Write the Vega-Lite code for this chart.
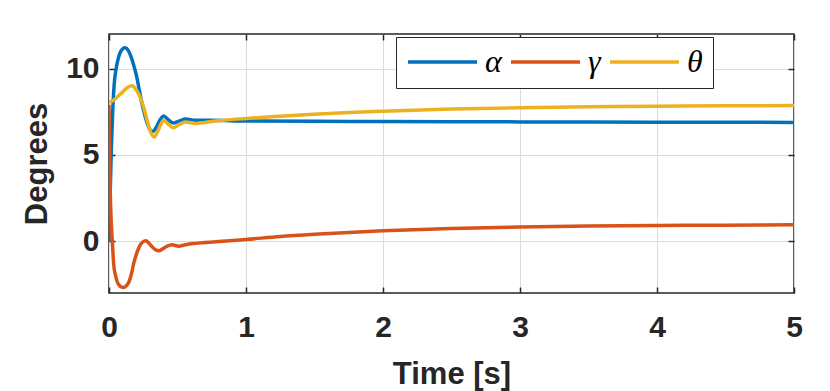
{
  "$schema": "https://vega.github.io/schema/vega-lite/v6.json",
  "width": 685,
  "height": 259,
  "autosize": {"type": "none"},
  "padding": {"left": 109, "top": 34, "right": 36, "bottom": 98},
  "background": "white",
  "config": {
    "view": {"stroke": "#262626", "strokeWidth": 1.5},
    "font": "Liberation Sans"
  },
  "data": {
    "values": [
      {"t": 0, "v": 0, "s": "α"},
      {"t": 0.008, "v": 2.5, "s": "α"},
      {"t": 0.017, "v": 5.3, "s": "α"},
      {"t": 0.027, "v": 7.5, "s": "α"},
      {"t": 0.037, "v": 9.0, "s": "α"},
      {"t": 0.05, "v": 9.9, "s": "α"},
      {"t": 0.065, "v": 10.5, "s": "α"},
      {"t": 0.08, "v": 10.9, "s": "α"},
      {"t": 0.095, "v": 11.1, "s": "α"},
      {"t": 0.117, "v": 11.2, "s": "α"},
      {"t": 0.14, "v": 11.05, "s": "α"},
      {"t": 0.16, "v": 10.7, "s": "α"},
      {"t": 0.18, "v": 10.2, "s": "α"},
      {"t": 0.2, "v": 9.6, "s": "α"},
      {"t": 0.22, "v": 8.8, "s": "α"},
      {"t": 0.24, "v": 8.0, "s": "α"},
      {"t": 0.26, "v": 7.35, "s": "α"},
      {"t": 0.28, "v": 6.8, "s": "α"},
      {"t": 0.3, "v": 6.45, "s": "α"},
      {"t": 0.32, "v": 6.35, "s": "α"},
      {"t": 0.345, "v": 6.6, "s": "α"},
      {"t": 0.37, "v": 7.0, "s": "α"},
      {"t": 0.4, "v": 7.25, "s": "α"},
      {"t": 0.43, "v": 7.05, "s": "α"},
      {"t": 0.47, "v": 6.85, "s": "α"},
      {"t": 0.51, "v": 6.95, "s": "α"},
      {"t": 0.56, "v": 7.08, "s": "α"},
      {"t": 0.63, "v": 7.0, "s": "α"},
      {"t": 0.74, "v": 7.0, "s": "α"},
      {"t": 1, "v": 6.96, "s": "α"},
      {"t": 1.5, "v": 6.94, "s": "α"},
      {"t": 2, "v": 6.93, "s": "α"},
      {"t": 3, "v": 6.91, "s": "α"},
      {"t": 4, "v": 6.89, "s": "α"},
      {"t": 5, "v": 6.88, "s": "α"},
      {"t": 0, "v": 7.9, "s": "γ"},
      {"t": 0.005, "v": 4.5, "s": "γ"},
      {"t": 0.012, "v": 2.0, "s": "γ"},
      {"t": 0.024, "v": 0, "s": "γ"},
      {"t": 0.035, "v": -1.4, "s": "γ"},
      {"t": 0.048, "v": -2.0, "s": "γ"},
      {"t": 0.06, "v": -2.35, "s": "γ"},
      {"t": 0.08, "v": -2.6, "s": "γ"},
      {"t": 0.105, "v": -2.68, "s": "γ"},
      {"t": 0.125, "v": -2.6, "s": "γ"},
      {"t": 0.146, "v": -2.35, "s": "γ"},
      {"t": 0.165, "v": -1.85, "s": "γ"},
      {"t": 0.18, "v": -1.3, "s": "γ"},
      {"t": 0.2, "v": -0.75, "s": "γ"},
      {"t": 0.22, "v": -0.33, "s": "γ"},
      {"t": 0.245, "v": -0.05, "s": "γ"},
      {"t": 0.27, "v": 0.02, "s": "γ"},
      {"t": 0.29, "v": -0.1, "s": "γ"},
      {"t": 0.316, "v": -0.33, "s": "γ"},
      {"t": 0.34, "v": -0.5, "s": "γ"},
      {"t": 0.365, "v": -0.56, "s": "γ"},
      {"t": 0.39, "v": -0.45, "s": "γ"},
      {"t": 0.425, "v": -0.29, "s": "γ"},
      {"t": 0.46, "v": -0.21, "s": "γ"},
      {"t": 0.51, "v": -0.29, "s": "γ"},
      {"t": 0.55, "v": -0.22, "s": "γ"},
      {"t": 0.6, "v": -0.15, "s": "γ"},
      {"t": 0.7, "v": -0.08, "s": "γ"},
      {"t": 0.8, "v": -0.02, "s": "γ"},
      {"t": 1, "v": 0.1, "s": "γ"},
      {"t": 1.25, "v": 0.27, "s": "γ"},
      {"t": 1.5, "v": 0.4, "s": "γ"},
      {"t": 1.75, "v": 0.51, "s": "γ"},
      {"t": 2, "v": 0.6, "s": "γ"},
      {"t": 2.5, "v": 0.73, "s": "γ"},
      {"t": 3, "v": 0.82, "s": "γ"},
      {"t": 3.5, "v": 0.88, "s": "γ"},
      {"t": 4, "v": 0.91, "s": "γ"},
      {"t": 4.5, "v": 0.93, "s": "γ"},
      {"t": 5, "v": 0.95, "s": "γ"},
      {"t": 0, "v": 8.05, "s": "θ"},
      {"t": 0.03, "v": 8.15, "s": "θ"},
      {"t": 0.06, "v": 8.35, "s": "θ"},
      {"t": 0.1, "v": 8.65, "s": "θ"},
      {"t": 0.135, "v": 8.9, "s": "θ"},
      {"t": 0.17, "v": 9.0, "s": "θ"},
      {"t": 0.2, "v": 8.75, "s": "θ"},
      {"t": 0.23, "v": 8.3, "s": "θ"},
      {"t": 0.255, "v": 7.7, "s": "θ"},
      {"t": 0.28, "v": 6.95, "s": "θ"},
      {"t": 0.3, "v": 6.4, "s": "θ"},
      {"t": 0.33, "v": 6.03, "s": "θ"},
      {"t": 0.355, "v": 6.35, "s": "θ"},
      {"t": 0.38, "v": 6.8, "s": "θ"},
      {"t": 0.4, "v": 7.0, "s": "θ"},
      {"t": 0.43, "v": 6.8, "s": "θ"},
      {"t": 0.47, "v": 6.57, "s": "θ"},
      {"t": 0.51, "v": 6.75, "s": "θ"},
      {"t": 0.56, "v": 6.9, "s": "θ"},
      {"t": 0.63, "v": 6.82, "s": "θ"},
      {"t": 0.7, "v": 6.88, "s": "θ"},
      {"t": 0.8, "v": 6.98, "s": "θ"},
      {"t": 1, "v": 7.11, "s": "θ"},
      {"t": 1.25, "v": 7.24, "s": "θ"},
      {"t": 1.5, "v": 7.35, "s": "θ"},
      {"t": 1.75, "v": 7.45, "s": "θ"},
      {"t": 2, "v": 7.53, "s": "θ"},
      {"t": 2.5, "v": 7.65, "s": "θ"},
      {"t": 3, "v": 7.73, "s": "θ"},
      {"t": 3.5, "v": 7.78, "s": "θ"},
      {"t": 4, "v": 7.82, "s": "θ"},
      {"t": 4.5, "v": 7.84, "s": "θ"},
      {"t": 5, "v": 7.86, "s": "θ"}
    ]
  },
  "layer": [
    {
      "mark": {"type": "line", "opacity": 0, "strokeWidth": 0},
      "encoding": {
        "x": {
          "field": "t", "type": "quantitative",
          "scale": {"domain": [0, 5], "nice": false, "zero": false},
          "axis": {
            "orient": "top", "title": null, "values": [0, 1, 2, 3, 4, 5], "labels": false,
            "grid": false, "domain": false, "ticks": true, "tickSize": -6, "tickColor": "#262626", "tickWidth": 1.5
          }
        },
        "y": {
          "field": "v", "type": "quantitative",
          "scale": {"domain": [-3, 12], "nice": false, "zero": false},
          "axis": {
            "orient": "right", "title": null, "values": [0, 5, 10], "labels": false,
            "grid": false, "domain": false, "ticks": true, "tickSize": -6, "tickColor": "#262626", "tickWidth": 1.5
          }
        }
      }
    },
    {
      "mark": {"type": "line", "interpolate": "monotone", "strokeWidth": 3.5, "clip": true},
      "encoding": {
        "x": {
          "field": "t", "type": "quantitative",
          "scale": {"domain": [0, 5], "nice": false, "zero": false},
          "axis": {
            "orient": "bottom", "title": "Time [s]", "values": [0, 1, 2, 3, 4, 5], "format": "d",
            "grid": true, "gridColor": "#dcdcdc", "gridWidth": 1,
            "domain": false, "ticks": true, "tickSize": -6, "tickColor": "#262626", "tickWidth": 1.5,
            "labelFlush": false, "labelOverlap": false,
            "labelFont": "Liberation Sans", "labelFontWeight": "bold", "labelFontSize": 30, "labelColor": "#262626",
            "labelPadding": 25,
            "titleFont": "Liberation Sans", "titleFontWeight": "bold", "titleFontSize": 31, "titleColor": "#262626",
            "titlePadding": 17
          }
        },
        "y": {
          "field": "v", "type": "quantitative",
          "scale": {"domain": [-3, 12], "nice": false, "zero": false},
          "axis": {
            "orient": "left", "title": "Degrees", "values": [0, 5, 10], "format": "d",
            "grid": true, "gridColor": "#dcdcdc", "gridWidth": 1,
            "domain": false, "ticks": true, "tickSize": -6, "tickColor": "#262626", "tickWidth": 1.5,
            "labelFlush": false, "labelOverlap": false,
            "labelFont": "Liberation Sans", "labelFontWeight": "bold", "labelFontSize": 30, "labelColor": "#262626",
            "labelPadding": 16,
            "titleFont": "Liberation Sans", "titleFontWeight": "bold", "titleFontSize": 31, "titleColor": "#262626",
            "titlePadding": 12
          }
        },
        "color": {
          "field": "s", "type": "nominal",
          "scale": {"domain": ["α", "γ", "θ"], "range": ["#0072BD", "#D95319", "#EDB120"]},
          "legend": {
            "title": null, "orient": "none", "legendX": 287, "legendY": 3,
            "direction": "horizontal", "clipHeight": 30,
            "symbolType": "stroke", "symbolSize": 4761, "symbolStrokeWidth": 3.5,
            "labelFont": "Liberation Serif", "labelFontStyle": "italic", "labelFontSize": 32, "labelColor": "#000000",
            "labelOffset": 6, "columnPadding": 7, "padding": 10,
            "strokeColor": "#262626", "fillColor": "white"
          }
        }
      }
    }
  ],
  "resolve": {"axis": {"x": "independent", "y": "independent"}}
}
